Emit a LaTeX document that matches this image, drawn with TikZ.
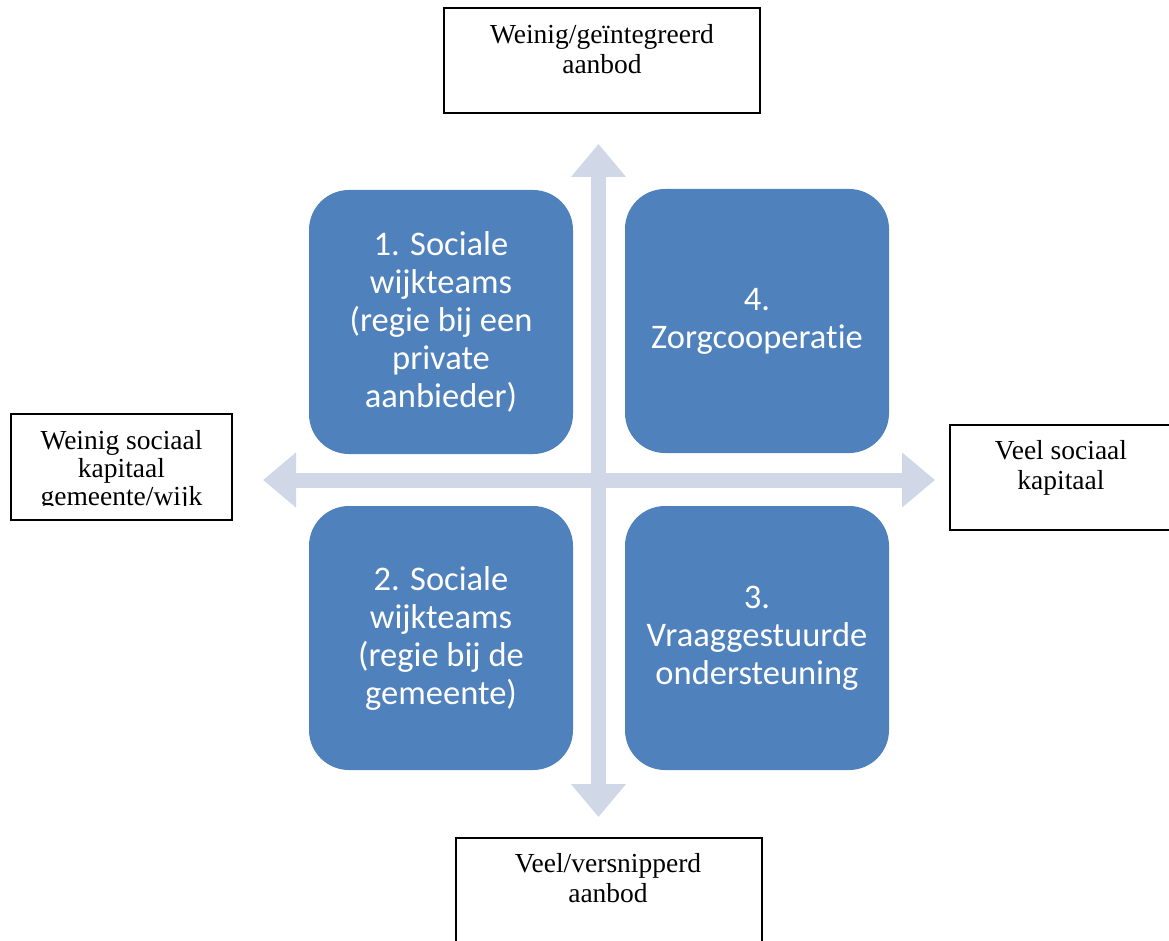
\documentclass[tikz,border=0pt]{standalone}
\usepackage{fontspec}
\setmainfont{Liberation Serif}
\newfontfamily\carlitofont[Ligatures=NoCommon,RawFeature=-liga]{Carlito}
\usetikzlibrary{arrows.meta}
\definecolor{quadblue}{HTML}{4F81BD}
\definecolor{axisgrey}{HTML}{D0D8E8}
\begin{document}
\begin{tikzpicture}[x=1pt,y=-1pt,
  quadbox/.style={fill=quadblue, draw=none, rounded corners=40pt,
    minimum width=264pt, minimum height=264pt, text=white, align=center,
    font=\carlitofont\fontsize{34.5}{38}\selectfont, inner sep=0pt},
  labelbox/.style={draw=black, line width=1.6pt, fill=white},
  labeltext/.style={align=center, font=\fontsize{27.5}{30}\selectfont, inner sep=0pt, anchor=north},
  axisarrow/.style={draw=axisgrey, line width=15pt,
    {Triangle[width=53pt,length=33pt]}-{Triangle[width=53pt,length=33pt]}}]
\clip (0,0) rectangle (1169,941);
\fill[white] (0,0) rectangle (1169,941);

% axes
\coordinate (vtop) at (598.5,144);
\coordinate (vbot) at (598.5,817);
\coordinate (hleft) at (263,480);
\coordinate (hright) at (935,480);
\draw[axisarrow] (vtop) -- (vbot);
\draw[axisarrow] (hleft) -- (hright);

% quadrants
\node[quadbox] (q1) at (441,322) {1. Sociale\\wijkteams\\(regie bij een\\private\\aanbieder)};
\node[quadbox] (q4) at (757,321) {4.\\Zorgcooperatie};
\node[quadbox] (q2) at (441,638) {2. Sociale\\wijkteams\\(regie bij de\\gemeente)};
\node[quadbox] (q3) at (757,638) {3.\\Vraaggestuurde\\ondersteuning};

% label boxes
\node[labelbox, minimum width=316pt, minimum height=105pt, inner sep=0pt] (topbox) at (602,60.5) {};
\node[labeltext] (toptext) at (602,24) {Weinig/geïntegreerd\\aanbod};

\node[labelbox, minimum width=221pt, minimum height=106pt, inner sep=0pt] (leftbox) at (121.5,467) {};
\begin{scope}
\clip (12,415) rectangle (231,505);
\node[labeltext, font=\fontsize{27.5}{28}\selectfont] (lefttext) at (121.5,430) {Weinig sociaal\\kapitaal\\gemeente/wijk};
\end{scope}

\node[labelbox, minimum width=222pt, minimum height=105pt, inner sep=0pt] (rightbox) at (1061,477.5) {};
\node[labeltext] (righttext) at (1061,440) {Veel sociaal\\kapitaal};

\node[labelbox, minimum width=306pt, minimum height=120pt, inner sep=0pt] (botbox) at (609,898) {};
\node[labeltext] (bottext) at (608,853) {Veel/versnipperd\\aanbod};
\end{tikzpicture}
\end{document}
